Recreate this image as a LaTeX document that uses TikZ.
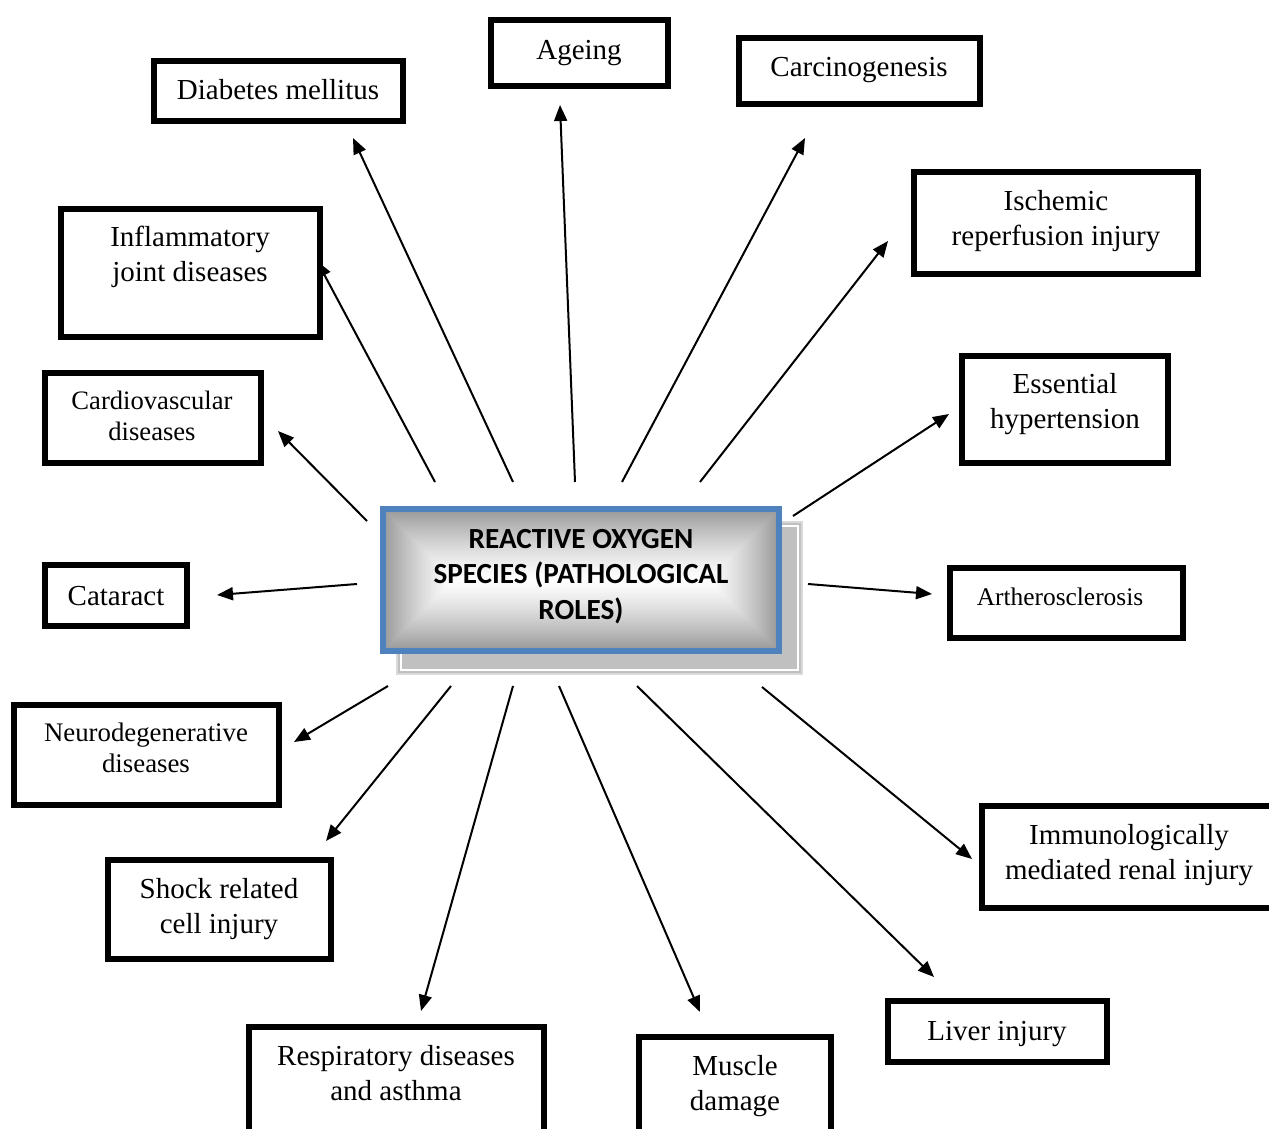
\documentclass[tikz,border=0pt]{standalone}
\usepackage{fontspec}
\setmainfont{Liberation Serif}
\newfontfamily\headfont{Carlito}
\usetikzlibrary{arrows.meta,fit}
\definecolor{rosblue}{HTML}{4F81BD}
\definecolor{shadowgray}{HTML}{C0C0C0}

\begin{document}
\begin{tikzpicture}[x=0.5pt,y=-0.5pt,
  frame/.style={draw=black, line width=3pt, fill=white, inner sep=0pt},
  lbl/.style={font=\fontsize{14.5}{17.5}\selectfont, align=center, inner sep=0pt},
  lblsmall/.style={font=\fontsize{13.3}{15.5}\selectfont, align=center, inner sep=0pt},
  link/.style={line width=1pt, -{Triangle[length=8pt,width=6.5pt]}},
]
\useasboundingbox (0,0) rectangle (1269,1129);
\clip (0,0) rectangle (1269,1129);

% central node: shadow, rectangular gradient, blue frame
\fill[shadowgray, draw=gray!30, line width=0.6pt] (397,522) rectangle (802,674);
\draw[white, line width=0.7pt] (401,526) rectangle (798,670);
\foreach \k in {0,...,35}{
  \pgfmathsetmacro\shadeval{40*(1-\k/36)^1.35}
  \fill[black!\shadeval] (383+2*\k,509+2*\k) rectangle (779-2*\k,651-2*\k);
}
\node[draw=rosblue, line width=3pt, inner sep=0pt, minimum width=198pt, minimum height=71pt] (ros) at (581,580) {};
\node[font=\headfont\bfseries\fontsize{14.6}{17.8}\selectfont, align=center, inner sep=0pt] (ros-t) at (581,576.5)
  {REACTIVE OXYGEN\\SPECIES (PATHOLOGICAL\\ROLES)};

% arrow end points
\coordinate (dm-s) at (513,482);  \coordinate (dm-e) at (353,138);
\coordinate (ag-s) at (575,482);  \coordinate (ag-e) at (560,105);
\coordinate (ca-s) at (622,482);  \coordinate (ca-e) at (805,138);
\coordinate (is-s) at (700,482);  \coordinate (is-e) at (888,241);
\coordinate (eh-s) at (793,516);  \coordinate (eh-e) at (949,414);
\coordinate (ar-s) at (808,584);  \coordinate (ar-e) at (932,594);
\coordinate (im-s) at (762,687);  \coordinate (im-e) at (972,859);
\coordinate (lv-s) at (637,686);  \coordinate (lv-e) at (934,977);
\coordinate (mu-s) at (559,686);  \coordinate (mu-e) at (700,1012);
\coordinate (rs-s) at (513,686);  \coordinate (rs-e) at (421,1011);
\coordinate (sh-s) at (451,686);  \coordinate (sh-e) at (326,841);
\coordinate (nd-s) at (388,686);  \coordinate (nd-e) at (294,742);
\coordinate (ct-s) at (357,584);  \coordinate (ct-e) at (217,595);
\coordinate (cv-s) at (367,521);  \coordinate (cv-e) at (278,431);
\coordinate (ij-s) at (435,482);  \coordinate (ij-e) at (317,261);

\foreach \n in {dm,ag,ca,is,eh,ar,im,lv,mu,rs,sh,nd,ct,cv,ij}
  \draw[link] (\n-s) -- (\n-e);

% outcome boxes
\node[frame, fit={(154,61) (403,121)}] (dm) {};
\node[frame, fit={(491,20) (668,86)}] (ag) {};
\node[frame, fit={(739,38) (980,104)}] (ca) {};
\node[frame, fit={(914,172) (1198,274)}] (is) {};
\node[frame, fit={(61,209) (320,337)}] (ij) {};
\node[frame, fit={(45,373) (261,463)}] (cv) {};
\node[frame, fit={(962,356) (1168,463)}] (eh) {};
\node[frame, fit={(45,565) (187,626)}] (ct) {};
\node[frame, fit={(950,568) (1183,638)}] (ar) {};
\node[frame, fit={(14,705) (279,805)}] (nd) {};
\node[frame, fit={(982,806) (1290,908)}] (im) {};
\node[frame, fit={(108,860) (331,959)}] (sh) {};
\node[frame, fit={(888,1001) (1107,1062)}] (lv) {};
\node[frame, fit={(249,1027) (544,1150)}] (rs) {};
\node[frame, fit={(639,1037) (831,1150)}] (mu) {};

% box labels
\node[lbl, anchor=base] (dm-t) at (278,100) {Diabetes mellitus};
\node[lbl, anchor=base] (ag-t) at (579,60) {Ageing};
\node[lbl, anchor=base] (ca-t) at (859,77) {Carcinogenesis};
\node[lbl] (is-t) at (1056,220.8) {Ischemic\\reperfusion injury};
\node[lbl] (ij-t) at (190,257.3) {Inflammatory\\joint diseases};
\node[lblsmall] (cv-t) at (152,415.4) {Cardiovascular\\diseases};
\node[lbl] (eh-t) at (1065,403.8) {Essential\\hypertension};
\node[lbl, anchor=base] (ct-t) at (116,605) {Cataract};
\node[lbl, font=\fontsize{12.7}{15}\selectfont, anchor=base] (ar-t) at (1060,605) {Artherosclerosis};
\node[lbl, font=\fontsize{13.4}{15.5}\selectfont] (nd-t) at (146,747.4) {Neurodegenerative\\diseases};
\node[lbl] (im-t) at (1129,854.8) {Immunologically\\mediated renal injury};
\node[lbl] (sh-t) at (219,908.8) {Shock related\\cell injury};
\node[lbl, anchor=base] (lv-t) at (997,1040) {Liver injury};
\node[lbl] (rs-t) at (396,1072.6) {Respiratory diseases\\and asthma};
\node[lbl] (mu-t) at (735,1085.8) {Muscle\\damage};
\end{tikzpicture}
\end{document}
